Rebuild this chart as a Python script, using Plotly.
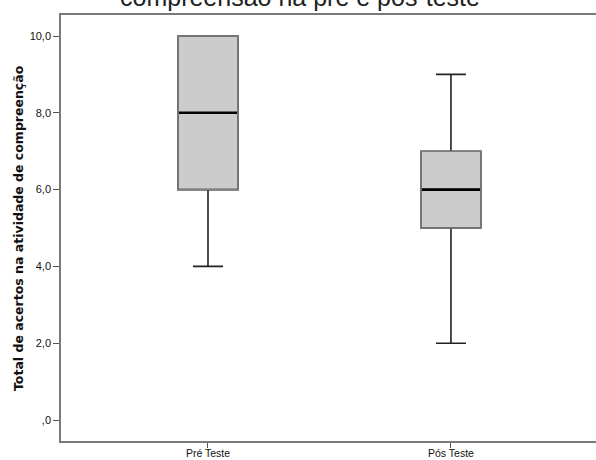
import plotly.graph_objects as go

# Data
categories = ["Pré Teste", "Pós Teste"]
minimums = [4.0, 2.0]
q1_values = [6.0, 5.0]
medians = [8.0, 6.0]
q3_values = [10.0, 7.0]
maximums = [10.0, 9.0]
y_tick_values = [0, 2, 4, 6, 8, 10]
y_tick_labels = [",0", "2,0", "4,0", "6,0", "8,0", "10,0"]

title_text = "compreensão na pré e pós-teste"
y_title = "Total de acertos na atividade de compreenção"

positions = list(range(len(categories)))
box_width = 0.247

fig = go.Figure()
fig.add_trace(go.Box(
    x=positions,
    q1=q1_values,
    median=medians,
    q3=q3_values,
    lowerfence=minimums,
    upperfence=maximums,
    width=box_width,
    whiskerwidth=0.5,
    fillcolor="#cccccc",
    line=dict(color="#222222", width=1.6),
    boxpoints=False,
    hoverinfo="skip",
    showlegend=False,
))

shapes = []
for p, lo, md, hi in zip(positions, q1_values, medians, q3_values):
    shapes.append(dict(type="rect", xref="x", yref="y",
                       x0=p - box_width / 2, x1=p + box_width / 2, y0=lo, y1=hi,
                       line=dict(color="#808080", width=1.6), fillcolor="rgba(0,0,0,0)",
                       layer="above"))
    shapes.append(dict(type="line", xref="x", yref="y",
                       x0=p - box_width / 2 + 0.004, x1=p + box_width / 2 - 0.004, y0=md, y1=md,
                       line=dict(color="#000000", width=2.6), layer="above"))

fig.update_layout(
    width=596, height=460,
    margin=dict(l=61, r=0, t=15, b=19),
    paper_bgcolor="white", plot_bgcolor="white",
    font=dict(family="Liberation Sans, Arial, sans-serif", color="#000000"),
    shapes=shapes,
    xaxis=dict(
        range=[-0.605, 1.597],
        tickvals=positions, ticktext=categories,
        showgrid=False, zeroline=False,
        showline=True, linecolor="#7a7a7a", linewidth=1.5, mirror=True,
        ticks="outside", ticklen=5, tickwidth=1.2, tickcolor="#555555",
        tickfont=dict(size=10.5, color="#111111"),
        ticklabelstandoff=-3,
        automargin=False,
    ),
    yaxis=dict(
        range=[-0.547, 10.547],
        tickvals=y_tick_values, ticktext=y_tick_labels,
        showgrid=False, zeroline=False,
        showline=True, linecolor="#7a7a7a", linewidth=1.5,
        ticks="outside", ticklen=6, tickwidth=1.2, tickcolor="#555555",
        tickfont=dict(size=11, color="#111111"),
        automargin=False,
    ),
    annotations=[
        dict(text=title_text, xref="paper", yref="paper",
             x=(300 - 61) / 535, y=1.004, xanchor="center", yanchor="bottom",
             showarrow=False, font=dict(size=25, color="#222222")),
        dict(text="<b>" + y_title + "</b>", xref="paper", yref="paper",
             x=-(61 - 18) / 535, y=0.5, xanchor="center", yanchor="middle",
             textangle=-90, showarrow=False,
             font=dict(family="DejaVu Sans, sans-serif", size=12.5, color="#111111")),
    ],
)

fig.write_html("out.html", config={"displayModeBar": False},
               post_script="document.body.style.margin='0';document.body.style.overflow='hidden';")
